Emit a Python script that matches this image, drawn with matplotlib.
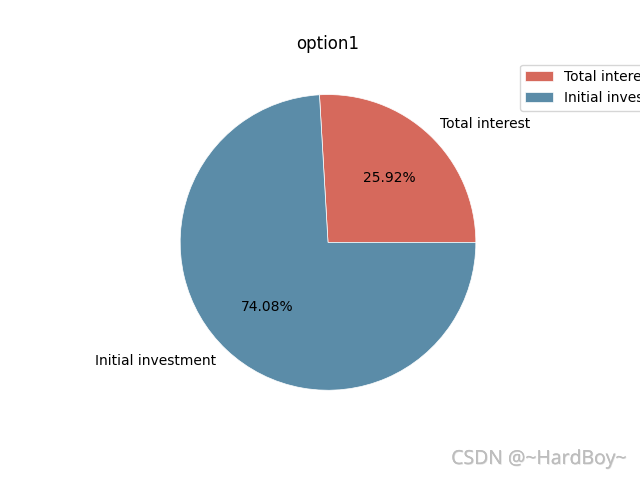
import matplotlib
matplotlib.use("Agg")
import matplotlib.pyplot as plt
import matplotlib.patheffects as pe

labels = ["Total interest", "Initial investment"]
values = [25.92, 74.08]
colors = ["#d6695c", "#5b8ca8"]
title = "option1"

fig, ax = plt.subplots(figsize=(6.4, 4.8), dpi=100)
ax.pie(values, labels=labels, colors=colors, autopct="%.2f%%",
       wedgeprops=dict(edgecolor="white", linewidth=0.5, alpha=1))
ax.set_title(title)
ax.legend(loc="upper left", bbox_to_anchor=(1, 1))
fig.text(0.98, 0.025, "CSDN @~HardBoy~", ha="right", va="bottom",
         fontsize=14, color="#bdbdbd", family="Open Sans",
         path_effects=[pe.withSimplePatchShadow(offset=(0.5, -0.5), shadow_rgbFace="#999999", alpha=0.3), pe.Normal()])
fig.savefig("out.png", dpi=100)
